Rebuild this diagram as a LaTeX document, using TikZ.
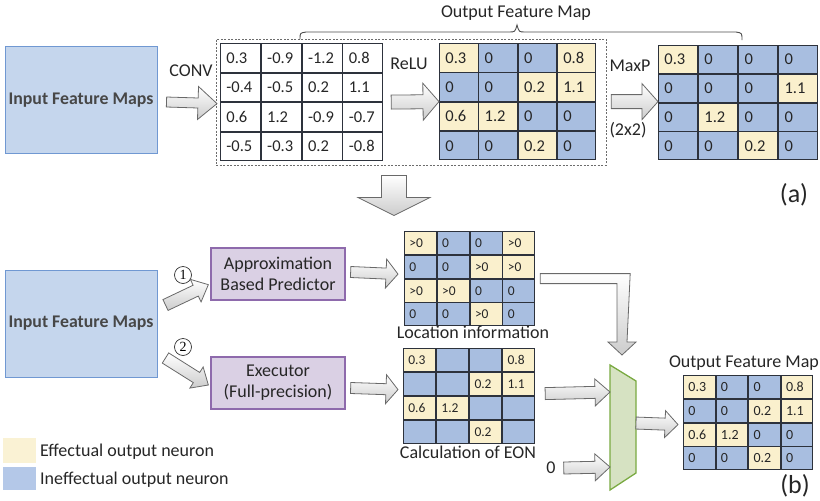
\documentclass[tikz,border=0pt]{standalone}
\usepackage{fontspec}
\setmainfont{Carlito}
\newfontfamily\numfont{Liberation Serif}
\usetikzlibrary{calc,matrix}
\definecolor{cy}{RGB}{250,240,205}
\definecolor{cb}{RGB}{168,190,224}
\definecolor{lgy}{RGB}{250,242,212}
\definecolor{lgb}{RGB}{180,200,232}
\definecolor{ifmfill}{RGB}{197,214,237}
\definecolor{ifmdraw}{RGB}{112,152,210}
\definecolor{pfill}{RGB}{218,208,228}
\definecolor{pdraw}{RGB}{142,106,172}
\definecolor{mfill}{RGB}{214,226,194}
\definecolor{mdraw}{RGB}{122,170,66}
\definecolor{txt}{RGB}{38,38,38}
\definecolor{adraw}{RGB}{105,105,105}
\definecolor{celldraw}{RGB}{45,50,60}
\tikzset{
  lbl/.style={font=\fontsize{18}{21.5}\selectfont, text=txt, inner sep=0pt},
  biglbl/.style={font=\fontsize{26}{30}\selectfont, text=txt, inner sep=0pt},
  ifm/.style={draw=ifmdraw, fill=ifmfill, line width=1pt, minimum width=152pt, minimum height=107pt, font=\fontsize{17.8}{21}\selectfont\bfseries, text=txt!85!white},
  pbox/.style={draw=pdraw, fill=pfill, line width=1.3pt, minimum width=134pt, minimum height=52pt, align=center, font=\fontsize{18}{21}\selectfont, text=txt},
  fatar/.style={draw=adraw, line width=0.8pt, top color=white, bottom color=gray!40, line join=miter},
  cellbase/.style={draw=celldraw, line width=0.8pt, anchor=center, inner ysep=0pt, align=left, text=black!85},
  W/.style={fill=white},
  Y/.style={fill=cy},
  B/.style={fill=cb},
  mat/.style={matrix of nodes, nodes in empty cells, inner sep=0pt, outer sep=0pt, column sep=0pt, row sep=0pt},
  topcell/.style={cellbase, inner xsep=6pt, font=\fontsize{16.5}{16.5}\selectfont, text height=11pt, text depth=0pt},
  botcell/.style={cellbase, inner xsep=5pt, font=\fontsize{13.5}{13.5}\selectfont, text height=9pt, text depth=0pt},
  circ/.style={draw=black!80, circle, line width=0.7pt, minimum size=17pt, inner sep=0pt, font=\numfont\fontsize{14}{14}\selectfont},
  bracestyle/.style={draw=black!70, line width=0.9pt},
  dashbox/.style={draw=gray!85!black, dash pattern=on 2pt off 1.5pt, line width=0.9pt},
  muxstyle/.style={draw=mdraw, fill=mfill, line width=1.3pt, line join=miter}
}
% fat block arrow: from, to, shaft half width, head half width, head length
\newcommand{\fatarrow}[5]{%
  \coordinate (fan) at ($(#2)!#5pt!(#1)$);
  \draw[fatar] ($(#1)!#3pt!90:(#2)$) -- ($(fan)!#3pt!90:(#2)$) -- ($(fan)!#4pt!90:(#2)$) -- (#2)
    -- ($(fan)!#4pt!-90:(#2)$) -- ($(fan)!#3pt!-90:(#2)$) -- ($(#1)!#3pt!-90:(#2)$) -- cycle;
}
\begin{document}
\begin{tikzpicture}[x=1pt,y=-1pt]
\useasboundingbox (0,0) rectangle (820,501);

% ---------------- (a) ----------------
\node[ifm] (ifmA) at (81,100) {Input Feature Maps};
\node[lbl] (convl) at (191,71) {CONV};
\node[dashbox, minimum width=390pt, minimum height=126pt, inner sep=0pt] (dbox) at (411,102) {};

\matrix (convm) [mat, anchor=north west, nodes={topcell, W, minimum width=40pt, text width=28pt, minimum height=28.75pt}] at (220,43) {
0.3 & -0.9 & -1.2 & 0.8 \\
-0.4 & -0.5 & 0.2 & 1.1 \\
0.6 & 1.2 & -0.9 & -0.7 \\
-0.5 & -0.3 & 0.2 & -0.8 \\
};

\node[lbl] (relul) at (409,64) {ReLU};
\matrix (relum) [mat, anchor=north west, nodes={topcell, B, minimum width=38.5pt, text width=26.5pt, minimum height=28.5pt}] at (439,43) {
|[Y]| 0.3 & 0 & 0 & |[Y]| 0.8 \\
0 & 0 & |[Y]| 0.2 & |[Y]| 1.1 \\
|[Y]| 0.6 & |[Y]| 1.2 & 0 & 0 \\
0 & 0 & |[Y]| 0.2 & 0 \\
};

\node[lbl] (maxl) at (630,66) {MaxP};
\node[lbl] (pooll) at (628,130) {(2x2)};
\matrix (maxm) [mat, anchor=north west, nodes={topcell, B, minimum width=39.25pt, text width=27.25pt, minimum height=28pt}] at (658,45) {
|[Y]| 0.3 & 0 & 0 & 0 \\
0 & 0 & 0 & |[Y]| 1.1 \\
0 & |[Y]| 1.2 & 0 & 0 \\
0 & 0 & |[Y]| 0.2 & 0 \\
};

\node[lbl] (ofmA) at (516,13) {Output Feature Map};
\draw[bracestyle] (300,39) .. controls (300,33) .. (306,32) -- (509,32)
  .. controls (515,32) .. (517,25) .. controls (519,32) .. (525,32) -- (736,32)
  .. controls (742,33) .. (742,40);

\node[biglbl] (la) at (794,195) {(a)};

\fatarrow{$(ifmA.east)+(9,2)$}{$(convm.west)+(-3,1.5)$}{5}{16.5}{19}
\fatarrow{$(convm.east)+(8,0)$}{relum.west}{7}{18.5}{16}
\fatarrow{$(relum.east)+(15,0)$}{$(maxm.west)+(0,-1)$}{7}{18}{16}
\fatarrow{$(dbox.south)+(-17,10)$}{$(dbox.south)+(-17,50)$}{12.5}{36}{18}

% ---------------- (b) ----------------
\node[ifm] (ifmB) at (81,323.5) {Input Feature Maps};
\node[pbox] (pred) at (278,274) {Approximation\\Based Predictor};
\node[pbox] (exec) at (278,383) {Executor\\(Full-precision)};
\node[circ] (c1) at (183,275) {1};
\node[circ] (c2) at (183,347) {2};

\matrix (locm) [mat, anchor=north west, nodes={botcell, B, minimum width=32pt, text width=22pt, minimum height=23pt}] at (404,231) {
|[Y]| >0 & 0 & 0 & |[Y]| >0 \\
0 & 0 & |[Y]| >0 & |[Y]| >0 \\
|[Y]| >0 & |[Y]| >0 & 0 & 0 \\
0 & 0 & |[Y]| >0 & 0 \\
};
\node[lbl] (locl) at (473,332) {Location information};

\matrix (eonm) [mat, anchor=north west, nodes={botcell, B, minimum width=32.25pt, text width=22.25pt, minimum height=23.25pt}] at (403,348) {
|[Y]| 0.3 & & & |[Y]| 0.8 \\
 & & |[Y]| 0.2 & |[Y]| 1.1 \\
|[Y]| 0.6 & |[Y]| 1.2 & & \\
 & & |[Y]| 0.2 & \\
};
\node[lbl] (eonl) at (468,452) {Calculation of EON};

\node[lbl] (zero) at (551,468) {0};

\coordinate (m1) at (610,365);
\coordinate (m2) at (636,381);
\coordinate (m3) at (636,473);
\coordinate (m4) at (610,490);
\draw[muxstyle] (m1) -- (m2) -- (m3) -- (m4) -- cycle;

\node[lbl] (ofmB) at (744,363) {Output Feature Map};
\matrix (outm) [mat, anchor=north west, nodes={botcell, B, minimum width=31.75pt, text width=21.75pt, minimum height=23pt, font=\fontsize{14}{14}\selectfont}] at (683,375) {
|[Y]| 0.3 & 0 & 0 & |[Y]| 0.8 \\
0 & 0 & |[Y]| 0.2 & |[Y]| 1.1 \\
|[Y]| 0.6 & |[Y]| 1.2 & 0 & 0 \\
0 & 0 & |[Y]| 0.2 & 0 \\
};
\node[biglbl] (lb) at (795,486) {(b)};

% legend
\node[fill=lgy, minimum width=33pt, minimum height=25pt, inner sep=0pt] (legY) at (19.5,450.5) {};
\node[lbl, anchor=west] (legYt) at (40,452) {Effectual output neuron};
\node[fill=lgb, minimum width=33pt, minimum height=23pt, inner sep=0pt] (legB) at (19.5,478.5) {};
\node[lbl, anchor=west] (legBt) at (40,480) {Ineffectual output neuron};

% arrows (b)
\fatarrow{$(ifmB.east)+(8,-18.5)$}{$(pred.south west)+(-2,-16)$}{6}{12.5}{14}
\fatarrow{$(ifmB.east)+(8,34.5)$}{$(exec.west)+(-2,2)$}{6}{12.5}{14}
\fatarrow{$(pred.east)+(5,-2)$}{$(locm.west)+(-6,-4.5)$}{5.5}{14.5}{12}
\fatarrow{$(exec.east)+(5,5)$}{$(eonm.west)+(-5,-6.5)$}{5.5}{14.5}{12}
\fatarrow{$(eonm.east)+(10,-2.5)$}{$($(m1)!0.216!(m4)$+(-8,0)$}{6}{13.5}{15}
\fatarrow{$(zero.east)+(8,0)$}{$($(m1)!0.816!(m4)$+(-8,0)$}{6}{13.5}{15}
\fatarrow{$($(m2)!0.457!(m3)$+(4,0)$}{$(outm.west)+(-5,2)$}{6}{13.5}{13}

% elbow arrow from location info to mux
\coordinate (e0) at ($(locm.east)+(5,-5)$);
\coordinate (etip) at (622,355);
\draw[fatar] (e0) -- ++(90,0) -- ($(etip)+(5,-13)$) -- ($(etip)+(14,-13)$) -- (etip)
  -- ($(etip)+(-14,-13)$) -- ($(etip)+(-5,-13)$) |- ($(e0)+(0,10)$) -- cycle;
\end{tikzpicture}
\end{document}
